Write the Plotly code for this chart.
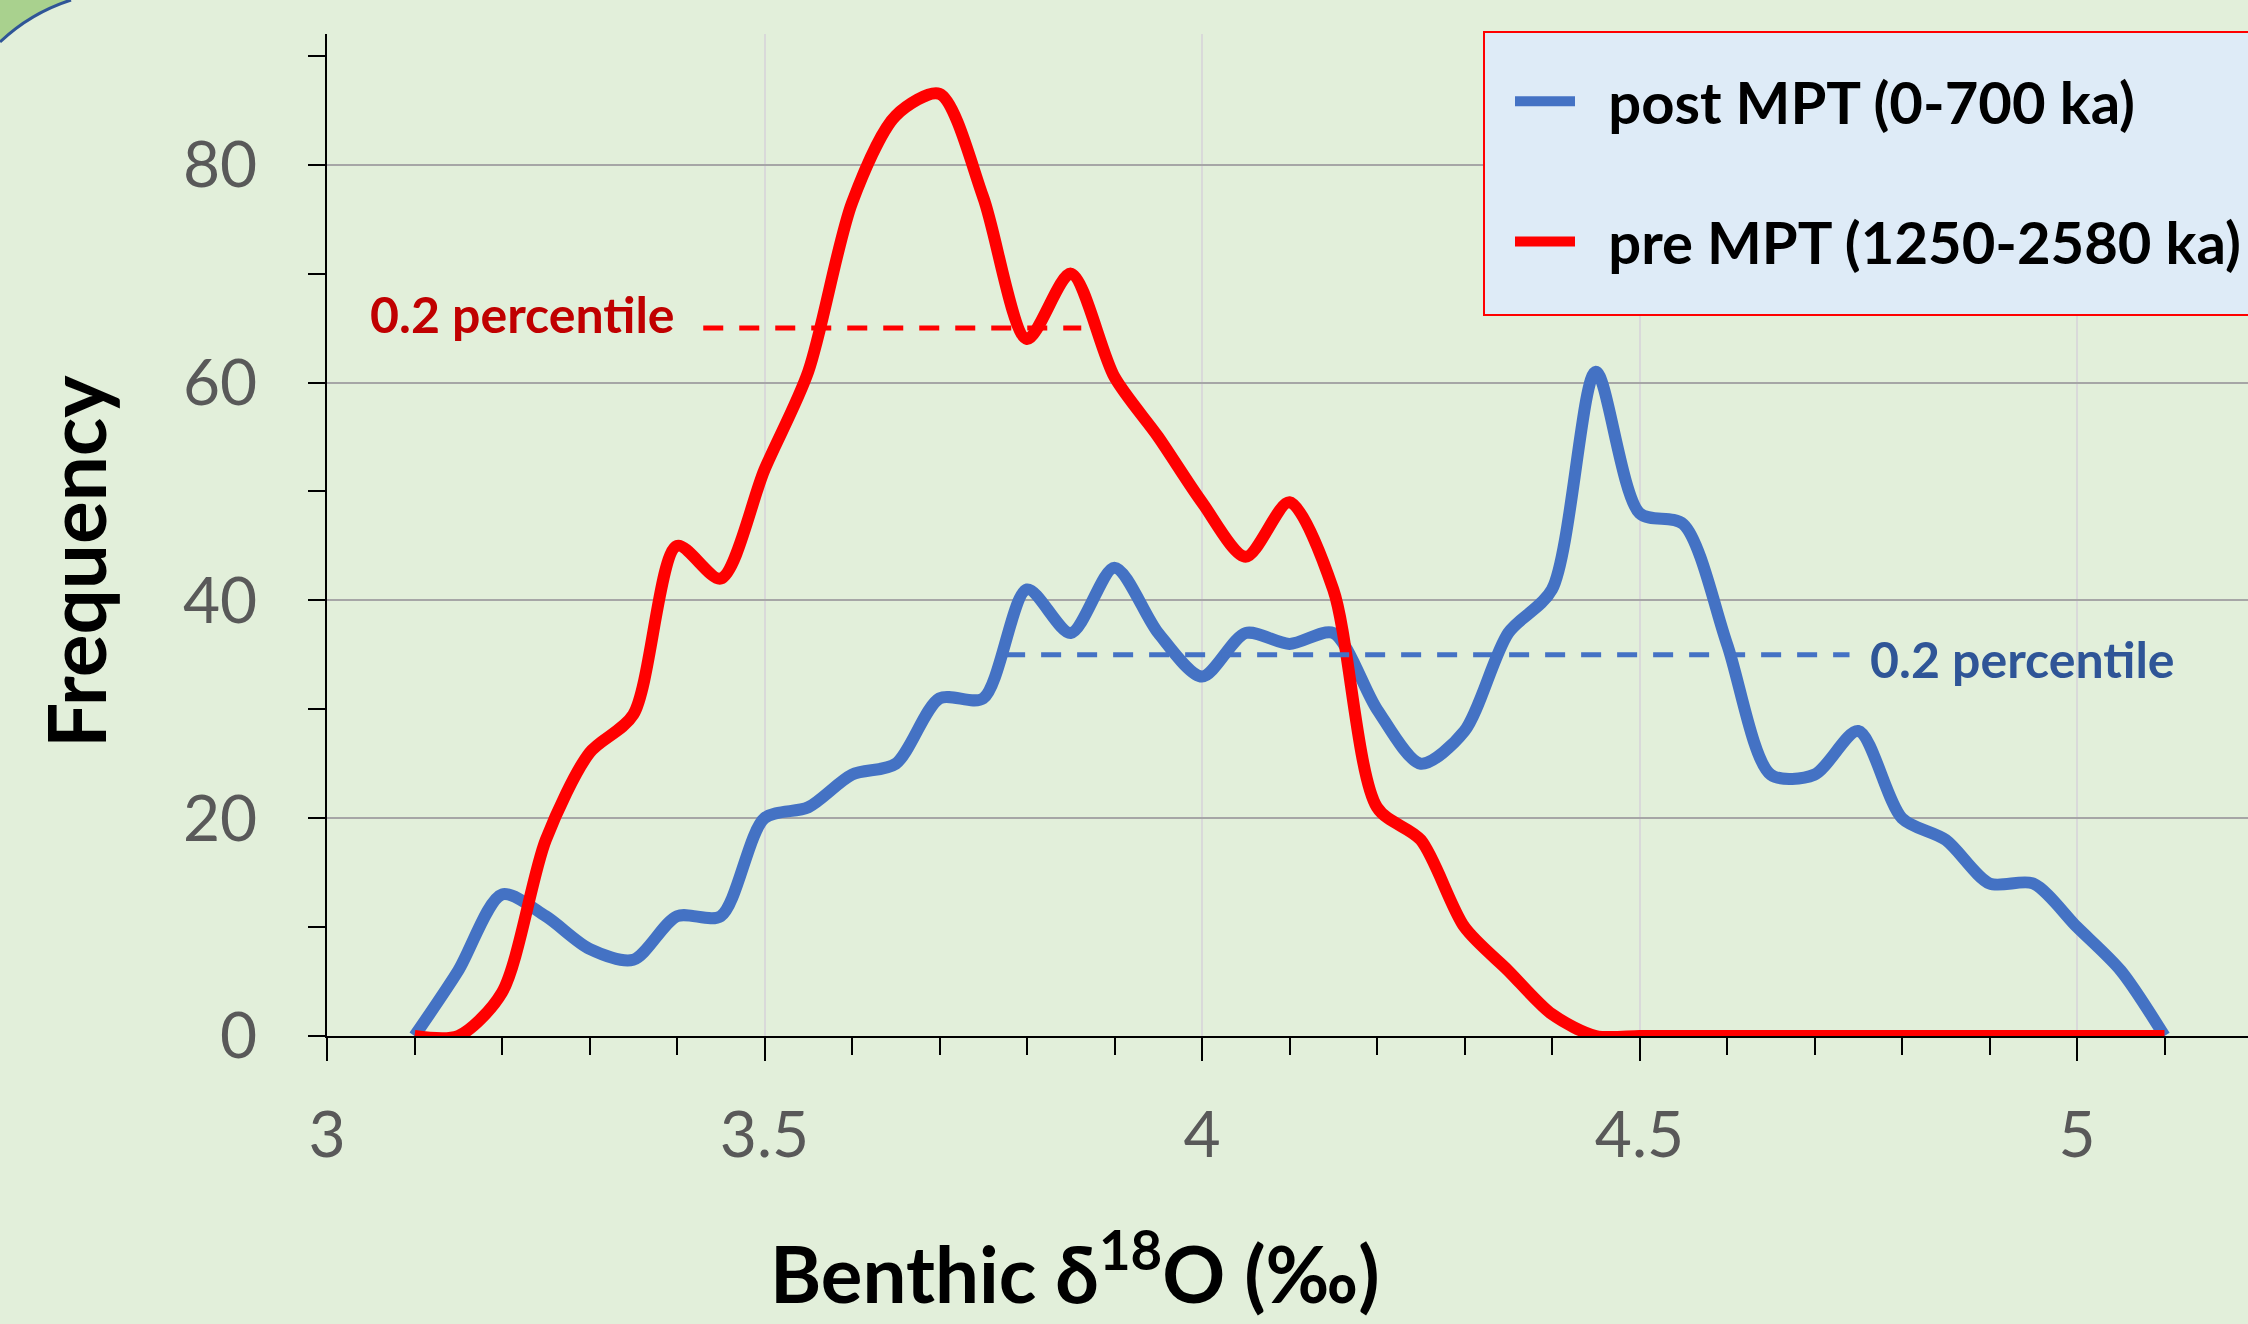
import plotly.graph_objects as go

# ---- data ----
x_vals = [3.10, 3.15, 3.20, 3.25, 3.30, 3.35, 3.40, 3.45, 3.50, 3.55, 3.60, 3.65, 3.70, 3.75,
          3.80, 3.85, 3.90, 3.95, 4.00, 4.05, 4.10, 4.15, 4.20, 4.25, 4.30, 4.35, 4.40, 4.45,
          4.50, 4.55, 4.60, 4.65, 4.70, 4.75, 4.80, 4.85, 4.90, 4.95, 5.00, 5.05, 5.10]
post_mpt = [0, 6, 13, 11, 8, 7, 11, 11, 20, 21, 24, 25, 31, 31,
            41, 37, 43, 37, 33, 37, 36, 37, 30, 25, 28, 37, 41, 61,
            48, 47, 36, 24, 24, 28, 20, 18, 14, 14, 10, 6, 0]
pre_mpt = [0, 0, 4, 18, 26, 29.5, 45, 42, 52, 61, 76.5, 84.5, 86.5, 77,
           64, 70, 60.5, 55, 49, 44, 49, 41, 21, 18, 10, 6, 2, 0,
           0, 0, 0, 0, 0, 0, 0, 0, 0, 0, 0, 0, 0]
pre_pct_x = [3.43, 3.862]
pre_pct_y = [65, 65]
post_pct_x = [3.775, 4.74]
post_pct_y = [35, 35]
pct_label = "0.2 percentile"
names = ["post MPT (0-700 ka)", "pre MPT (1250-2580 ka)"]
x_ticks = [3, 3.5, 4, 4.5, 5]
x_tick_text = ["3", "3.5", "4", "4.5", "5"]
y_ticks = [0, 20, 40, 60, 80]

W, H = 2248, 1324
L, R, T, B = 327, 0, 34, 288
pw, ph = W - L - R, H - T - B

def px_x(p):
    return (p - L) / pw

def px_y(p):
    return (H - B - p) / ph

BLUE = "#4472C4"
RED = "#FF0000"
FONT = "Lato"
SP = "\u00a0\u00a0"

fig = go.Figure()
fig.add_trace(go.Scatter(x=x_vals, y=post_mpt, mode="lines", name=SP + names[0],
                         line=dict(color=BLUE, width=12, shape="spline", smoothing=0.8),
                         legendgroup="a"))
fig.add_trace(go.Scatter(x=x_vals, y=pre_mpt, mode="lines", name=SP + names[1],
                         line=dict(color=RED, width=12, shape="spline", smoothing=0.8),
                         legendgroup="b"))
fig.add_trace(go.Scatter(x=pre_pct_x, y=pre_pct_y, mode="lines", showlegend=False,
                         line=dict(color=RED, width=5, dash="20px,16px")))
fig.add_trace(go.Scatter(x=post_pct_x, y=post_pct_y, mode="lines", showlegend=False,
                         line=dict(color=BLUE, width=5, dash="20px,16px")))

fig.add_annotation(x=3.40, y=66.3, text=f"<b>{pct_label}</b>", showarrow=False,
                   xanchor="right", yanchor="middle",
                   font=dict(family=FONT, size=50, color="#C00000"))
fig.add_annotation(x=4.761, y=34.6, text=f"<b>{pct_label}</b>", showarrow=False,
                   xanchor="left", yanchor="middle",
                   font=dict(family=FONT, size=50, color="#2F5597"))

# axis titles
fig.add_annotation(x=px_x(75), y=px_y(562), xref="paper", yref="paper",
                   xanchor="center", yanchor="middle",
                   text="<b>Frequency</b>", textangle=-90, showarrow=False,
                   font=dict(family=FONT, size=80, color="black"))
fig.add_annotation(x=px_x(1075), y=px_y(1268), xref="paper", yref="paper",
                   xanchor="center", yanchor="middle",
                   text="<b>Benthic δ<sup>18</sup>O (‰)</b>", showarrow=False,
                   font=dict(family=FONT, size=78, color="black"))

# legend box
fig.add_shape(type="rect", xref="paper", yref="paper",
              x0=px_x(1484), x1=px_x(2260), y0=px_y(315), y1=px_y(32),
              fillcolor="#DEEBF7", line=dict(color="red", width=2), layer="above")

# corner decoration
path = (f"M {px_x(-2)},{px_y(-2)} L {px_x(71)},{px_y(-2)} L {px_x(71)},{px_y(0)} "
        f"Q {px_x(30.5)},{px_y(13)} {px_x(0)},{px_y(42)} L {px_x(-2)},{px_y(42)} Z")
fig.add_shape(type="path", xref="paper", yref="paper", path=path,
              fillcolor="#A9D18E", line=dict(width=0), layer="below")
fig.add_shape(type="path", xref="paper", yref="paper",
              path=f"M {px_x(71)},{px_y(0)} Q {px_x(30.5)},{px_y(13)} {px_x(0)},{px_y(42)}",
              line=dict(color="#2F5597", width=3), layer="below")

fig.update_layout(
    width=W, height=H,
    margin=dict(l=L, r=R, t=T, b=B),
    paper_bgcolor="#E2EFDA", plot_bgcolor="#E2EFDA",
    showlegend=True,
    legend=dict(x=px_x(1510), y=px_y(57), xanchor="left", yanchor="top",
                bgcolor="rgba(0,0,0,0)", borderwidth=0,
                font=dict(family=FONT, size=58, color="black", weight="bold"),
                traceorder="grouped", tracegroupgap=62, itemwidth=60),
    xaxis=dict(range=[3, 3 + pw / 875], tickvals=x_ticks, ticktext=x_tick_text,
               showgrid=True, gridcolor="#D9D9D9", gridwidth=1.5,
               showline=True, linecolor="black", linewidth=2,
               ticks="outside", ticklen=23, tickwidth=2, tickcolor="black",
               ticklabelstandoff=19,
               tickfont=dict(family=FONT, size=64, color="#595959"),
               minor=dict(dtick=0.1, tick0=3, ticks="outside", ticklen=17,
                          tickwidth=2, tickcolor="black", showgrid=False),
               zeroline=False),
    yaxis=dict(range=[0, 92], tickvals=y_ticks,
               showgrid=True, gridcolor="#A6A6A6", gridwidth=2,
               showline=True, linecolor="black", linewidth=2,
               ticks="outside", ticklen=17, tickwidth=2, tickcolor="black",
               ticklabelstandoff=38,
               tickfont=dict(family=FONT, size=64, color="#595959"),
               minor=dict(dtick=10, tick0=0, ticks="outside", ticklen=17,
                          tickwidth=2, tickcolor="black", showgrid=False),
               zeroline=False),
)

fig.write_html("out.html", config={"displayModeBar": False},
               post_script="document.body.style.margin='0';")
